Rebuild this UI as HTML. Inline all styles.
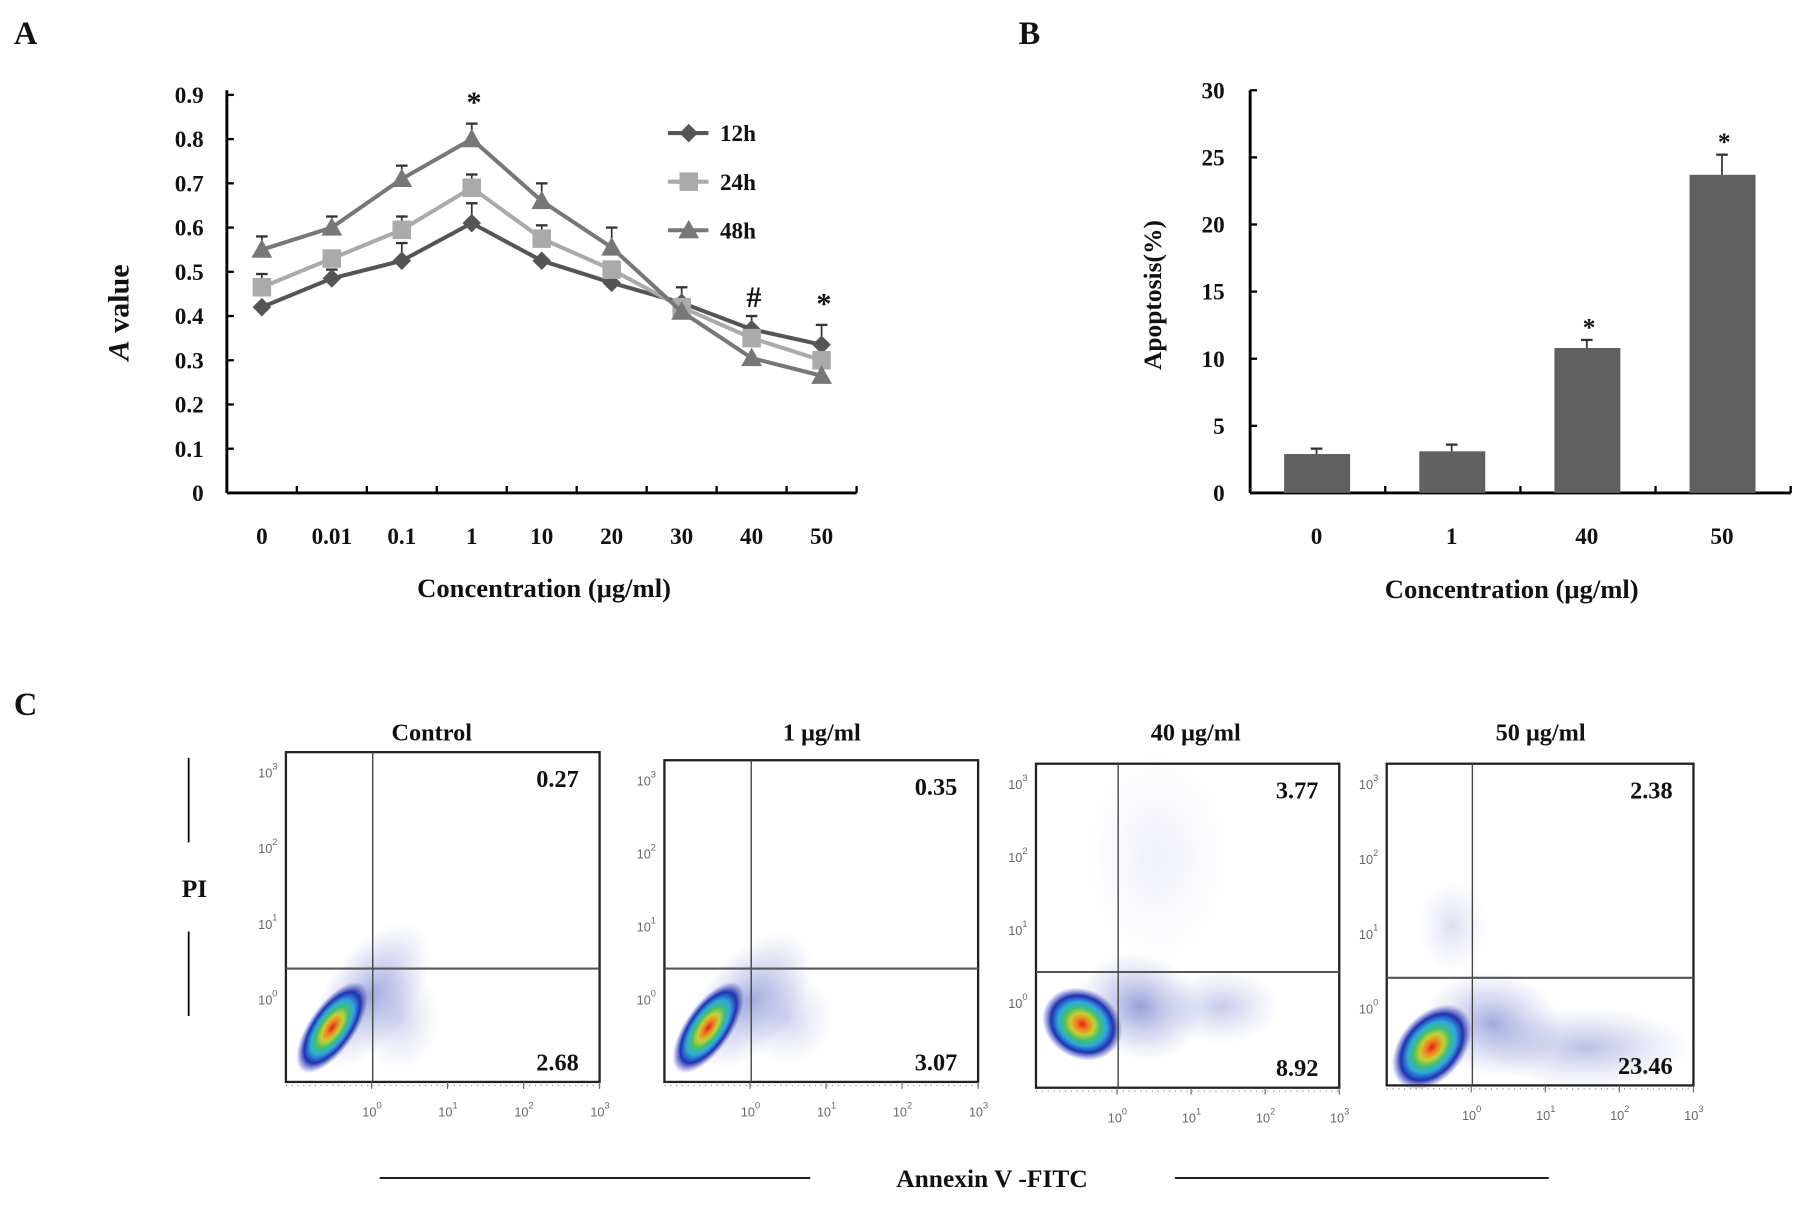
<!DOCTYPE html>
<html><head><meta charset="utf-8"><style>
html,body{margin:0;padding:0;background:#fff;}
svg{display:block;}
text{font-family:"Liberation Serif",serif;font-weight:bold;fill:#111;}
.fl{font-family:"Liberation Sans",sans-serif;font-weight:normal;fill:#666;font-size:11px;}
</style></head><body>
<svg id="fig" width="1815" height="1215" viewBox="0 0 1568 1050" preserveAspectRatio="none" xmlns="http://www.w3.org/2000/svg">
<defs>
<radialGradient id="cloud" cx="50%" cy="50%" r="50%">
<stop offset="0" stop-color="#e0201a"/><stop offset="0.15" stop-color="#f08020"/><stop offset="0.3" stop-color="#c8d030"/><stop offset="0.45" stop-color="#40c070"/><stop offset="0.6" stop-color="#30a8e0"/><stop offset="0.78" stop-color="#2030b0"/><stop offset="1" stop-color="#4050c0" stop-opacity="0"/>
</radialGradient>
<radialGradient id="haze" cx="50%" cy="50%" r="50%">
<stop offset="0" stop-color="#3040b0" stop-opacity="0.55"/><stop offset="1" stop-color="#6070d0" stop-opacity="0"/>
</radialGradient>
</defs>
<text x="12" y="38" font-size="28">A</text>
<text x="880" y="38" font-size="28">B</text>
<text x="12" y="618" font-size="28">C</text>
<g id="chartA"></g>
<g id="chartB"></g>
<g id="chartC"></g>
</svg>
<script>
// Panel A data
const catsA = ["0","0.01","0.1","1","10","20","30","40","50"];
const seriesNames = ["12h","24h","48h"];
const v12 = [0.42,0.485,0.525,0.61,0.525,0.475,0.43,0.37,0.335];
const v24 = [0.465,0.53,0.595,0.69,0.575,0.505,0.42,0.35,0.30];
const v48 = [0.55,0.60,0.71,0.80,0.66,0.555,0.41,0.305,0.265];
const e12 = [0.0,0.02,0.04,0.045,0.0,0.0,0.035,0.03,0.045];
const e24 = [0.03,0.0,0.03,0.03,0.03,0.0,0.0,0.0,0.0];
const e48 = [0.03,0.025,0.03,0.035,0.04,0.045,0.0,0.0,0.0];
const yTicksA = [0,0.1,0.2,0.3,0.4,0.5,0.6,0.7,0.8,0.9];
const annotA = ["","","","*","","","","#","*"];
// Panel B data
const catsB = ["0","1","40","50"];
const valsB = [2.9,3.1,10.8,23.7];
const errB = [0.4,0.5,0.6,1.5];
const yTicksB = [0,5,10,15,20,25,30];
const annotB = ["","","*","*"];
// Panel C data
const flowTitles = ["Control","1 μg/ml","40 μg/ml","50 μg/ml"];
const flowUR = ["0.27","0.35","3.77","2.38"];
const flowLR = ["2.68","3.07","8.92","23.46"];

const NS="http://www.w3.org/2000/svg";
function mk(p,tag,at,txt){const e=document.createElementNS(NS,tag);for(const k in at)e.setAttribute(k,at[k]);if(txt!==undefined)e.textContent=txt;p.appendChild(e);return e;}

// ---- A ----
(function(){
const g=document.getElementById('chartA');
const X0=196,X1=740,Y0=426,Y1=82;
const ys=v=>Y0-(v/0.9)*(Y0-Y1);
const step=(X1-X0)/9;
const xs=i=>X0+step*(i+0.5);
mk(g,'line',{x1:X0,y1:Y1-4,x2:X0,y2:Y0,stroke:'#000','stroke-width':2.5});
mk(g,'line',{x1:X0,y1:Y0,x2:X1,y2:Y0,stroke:'#000','stroke-width':2.5});
yTicksA.forEach(t=>{
 mk(g,'line',{x1:X0,y1:ys(t),x2:X0+6,y2:ys(t),stroke:'#000','stroke-width':2});
 const e=mk(g,'text',{x:176,y:ys(t)+7,'font-size':20,'text-anchor':'end'},t===0?'0':t.toFixed(1));
 
 
});
for(let i=1;i<=9;i++)mk(g,'line',{x1:X0+step*i,y1:Y0,x2:X0+step*i,y2:Y0-6,stroke:'#000','stroke-width':2});
catsA.forEach((c,i)=>{
 const e=mk(g,'text',{x:xs(i),y:470,'font-size':20,'text-anchor':'middle'},c);
 
 
 if(annotA[i]){const a=mk(g,'text',{x:xs(i)+2,y:(annotA[i]==='#'?ys(v12[i]+e12[i])-8:ys(Math.max(v12[i]+e12[i],v48[i]+e48[i]))-10),'font-size':26,'text-anchor':'middle'},annotA[i]);
 
 }
});
const xt=mk(g,'text',{x:470,y:516,'font-size':23,'text-anchor':'middle'},'Concentration (μg/ml)');

const yt=mk(g,'text',{x:0,y:0,'font-size':26,'text-anchor':'middle',transform:'translate(111,270) rotate(-90)'});
mk(yt,'tspan',{'font-style':'italic'},'A');mk(yt,'tspan',{},' value');

const cols=['#555','#aaa','#777'];
const sets=[[v12,e12],[v24,e24],[v48,e48]];
sets.forEach((s,k)=>{
 const [v,er]=s;
 v.forEach((y,i)=>{ if(er[i]>0){
  mk(g,'line',{x1:xs(i),y1:ys(y),x2:xs(i),y2:ys(y+er[i]),stroke:'#333','stroke-width':1.5});
  mk(g,'line',{x1:xs(i)-5,y1:ys(y+er[i]),x2:xs(i)+5,y2:ys(y+er[i]),stroke:'#333','stroke-width':2});}});
});
sets.forEach((s,k)=>{
 const v=s[0];
 const pl=mk(g,'polyline',{points:v.map((y,i)=>xs(i)+','+ys(y)).join(' '),fill:'none',stroke:cols[k],'stroke-width':3.5});
 
 
 v.forEach((y,i)=>{
  const cx=xs(i),cy=ys(y);let m;
  if(k===0)m=mk(g,'polygon',{points:`${cx},${cy-8} ${cx+8},${cy} ${cx},${cy+8} ${cx-8},${cy}`,fill:cols[k]});
  else if(k===1)m=mk(g,'rect',{x:cx-8,y:cy-8,width:16,height:16,fill:cols[k]});
  else m=mk(g,'polygon',{points:`${cx},${cy-9} ${cx+9},${cy+7} ${cx-9},${cy+7}`,fill:cols[k]});
  
  
 });
});
const ly=[115,157,199];
seriesNames.forEach((n,k)=>{
 const lg=mk(g,'g',{});
 
 
 mk(lg,'line',{x1:577,y1:ly[k],x2:612,y2:ly[k],stroke:cols[k],'stroke-width':3.5});
 const cx=595,cy=ly[k];
 if(k===0)mk(lg,'polygon',{points:`${cx},${cy-8} ${cx+8},${cy} ${cx},${cy+8} ${cx-8},${cy}`,fill:cols[k]});
 else if(k===1)mk(lg,'rect',{x:cx-8,y:cy-8,width:16,height:16,fill:cols[k]});
 else mk(lg,'polygon',{points:`${cx},${cy-9} ${cx+9},${cy+7} ${cx-9},${cy+7}`,fill:cols[k]});
 mk(lg,'text',{x:622,y:cy+7,'font-size':20},n);
});
})();

// ---- B ----
(function(){
const g=document.getElementById('chartB');
const X0=1080,X1=1547,Y0=426,Y1=78;
const ys=v=>Y0-(v/30)*(Y0-Y1);
const step=(X1-X0)/4;
const xs=i=>X0+step*(i+0.5)-1;
mk(g,'line',{x1:X0,y1:Y1,x2:X0,y2:Y0,stroke:'#000','stroke-width':2.5});
mk(g,'line',{x1:X0,y1:Y0,x2:X1,y2:Y0,stroke:'#000','stroke-width':2.5});
yTicksB.forEach(t=>{
 mk(g,'line',{x1:X0,y1:ys(t),x2:X0+6,y2:ys(t),stroke:'#000','stroke-width':2});
 const e=mk(g,'text',{x:1058,y:ys(t)+7,'font-size':20,'text-anchor':'end'},String(t));
 
 
});
for(let i=1;i<=4;i++)mk(g,'line',{x1:X0+step*i,y1:Y0,x2:X0+step*i,y2:Y0-6,stroke:'#000','stroke-width':2});
catsB.forEach((c,i)=>{
 const b=mk(g,'rect',{x:xs(i)-28,y:ys(valsB[i]),width:57,height:Y0-ys(valsB[i]),fill:'#606060'});
 
 
 const top=ys(valsB[i]+errB[i]);
 mk(g,'line',{x1:xs(i),y1:ys(valsB[i]),x2:xs(i),y2:top,stroke:'#333','stroke-width':1.5});
 mk(g,'line',{x1:xs(i)-5,y1:top,x2:xs(i)+5,y2:top,stroke:'#333','stroke-width':2});
 const e=mk(g,'text',{x:xs(i),y:470,'font-size':20,'text-anchor':'middle'},c);
 
 
 if(annotB[i]){const a=mk(g,'text',{x:xs(i)+2,y:top-4,'font-size':22,'text-anchor':'middle'},annotB[i]);
 
 }
});
const xt=mk(g,'text',{x:1306,y:517,'font-size':23,'text-anchor':'middle'},'Concentration (μg/ml)');

const yt=mk(g,'text',{x:0,y:0,'font-size':22,'text-anchor':'middle',transform:'translate(1003,255) rotate(-90)'},'Apoptosis(%)');

})();

// ---- C ----
(function(){
const g=document.getElementById('chartC');
const boxes=[[247,650,518,935],[574,657,845,935],[895,660,1157,940],[1198,660,1463,938]];
const quad=[[322,837],[649,837],[966,840],[1272,845]];
const titleX=[373,710,1033,1331];
const clouds=[
 [[287,888,20,46,35]],
 [[612,888,20,46,35]],
 [[935,885,36,30,30]],
 [[1237,905,28,42,40]]];
const hazes=[
 [[320,860,38,72,35,0.8],[345,880,35,45,0,0.4]],
 [[648,865,40,70,40,0.8],[680,880,40,40,0,0.4]],
 [[985,870,55,45,20,0.9],[1055,870,50,32,0,0.5],[1000,740,60,90,0,0.15]],
 [[1290,885,60,45,10,0.8],[1370,905,90,35,0,0.6],[1255,800,30,40,0,0.3]]];
boxes.forEach((b,k)=>{
 const [x0,y0,x1,y1]=b;
 const p=mk(g,'g',{});
 
 
 const t=mk(p,'text',{x:titleX[k],y:640,'font-size':21,'text-anchor':'middle'},flowTitles[k]);
 
 
 hazes[k].forEach(h=>mk(p,'ellipse',{cx:h[0],cy:h[1],rx:h[2],ry:h[3],fill:'url(#haze)',opacity:h[5],transform:`rotate(${h[4]} ${h[0]} ${h[1]})`}));
 clouds[k].forEach(c=>mk(p,'ellipse',{cx:c[0],cy:c[1],rx:c[2],ry:c[3],fill:'url(#cloud)',transform:`rotate(${c[4]} ${c[0]} ${c[1]})`}));
 mk(p,'rect',{x:x0,y:y0,width:x1-x0,height:y1-y0,fill:'none',stroke:'#222','stroke-width':2});
 mk(p,'line',{x1:quad[k][0],y1:y0,x2:quad[k][0],y2:y1,stroke:'#444','stroke-width':1.2});
 mk(p,'line',{x1:x0,y1:quad[k][1],x2:x1,y2:quad[k][1],stroke:'#555','stroke-width':1.8});
 const u=mk(p,'text',{x:x1-18,y:y0+30,'font-size':21,'text-anchor':'end'},flowUR[k]);
 
 const l=mk(p,'text',{x:x1-18,y:y1-10,'font-size':21,'text-anchor':'end'},flowLR[k]);
 
 const ax=quad[k][0]-1, dx=(x1-ax)/3;
 const top=y0+18, dy=(quad[k][1]+27-top)/3;
 for(let d=0;d<4;d++){
  const tx=mk(p,'text',{class:'fl',x:ax+dx*d-8,y:y1+30},'10');mk(tx,'tspan',{dy:-7,'font-size':8},String(d));
  const ty=mk(p,'text',{class:'fl',x:x0-24,y:quad[k][1]+27-dy*d+4},'10');mk(ty,'tspan',{dy:-7,'font-size':8},String(d));
  mk(p,'line',{x1:ax+dx*d,y1:y1,x2:ax+dx*d,y2:y1+6,stroke:'#666','stroke-width':1});
 }
 mk(p,'line',{x1:x0,y1:y1+3,x2:x1,y2:y1+3,stroke:'#888','stroke-width':1,'stroke-dasharray':'1 4'});
});
const pi=mk(g,'text',{x:168,y:775,'font-size':22,'text-anchor':'middle'},'PI');

mk(g,'line',{x1:163,y1:655,x2:163,y2:728,stroke:'#000','stroke-width':1.5});
mk(g,'line',{x1:163,y1:805,x2:163,y2:878,stroke:'#000','stroke-width':1.5});
const an=mk(g,'text',{x:857,y:1026,'font-size':22,'text-anchor':'middle'},'Annexin V -FITC');

mk(g,'line',{x1:328,y1:1018,x2:700,y2:1018,stroke:'#000','stroke-width':1.5});
mk(g,'line',{x1:1015,y1:1018,x2:1338,y2:1018,stroke:'#000','stroke-width':1.5});
})();
</script>
</body></html>
